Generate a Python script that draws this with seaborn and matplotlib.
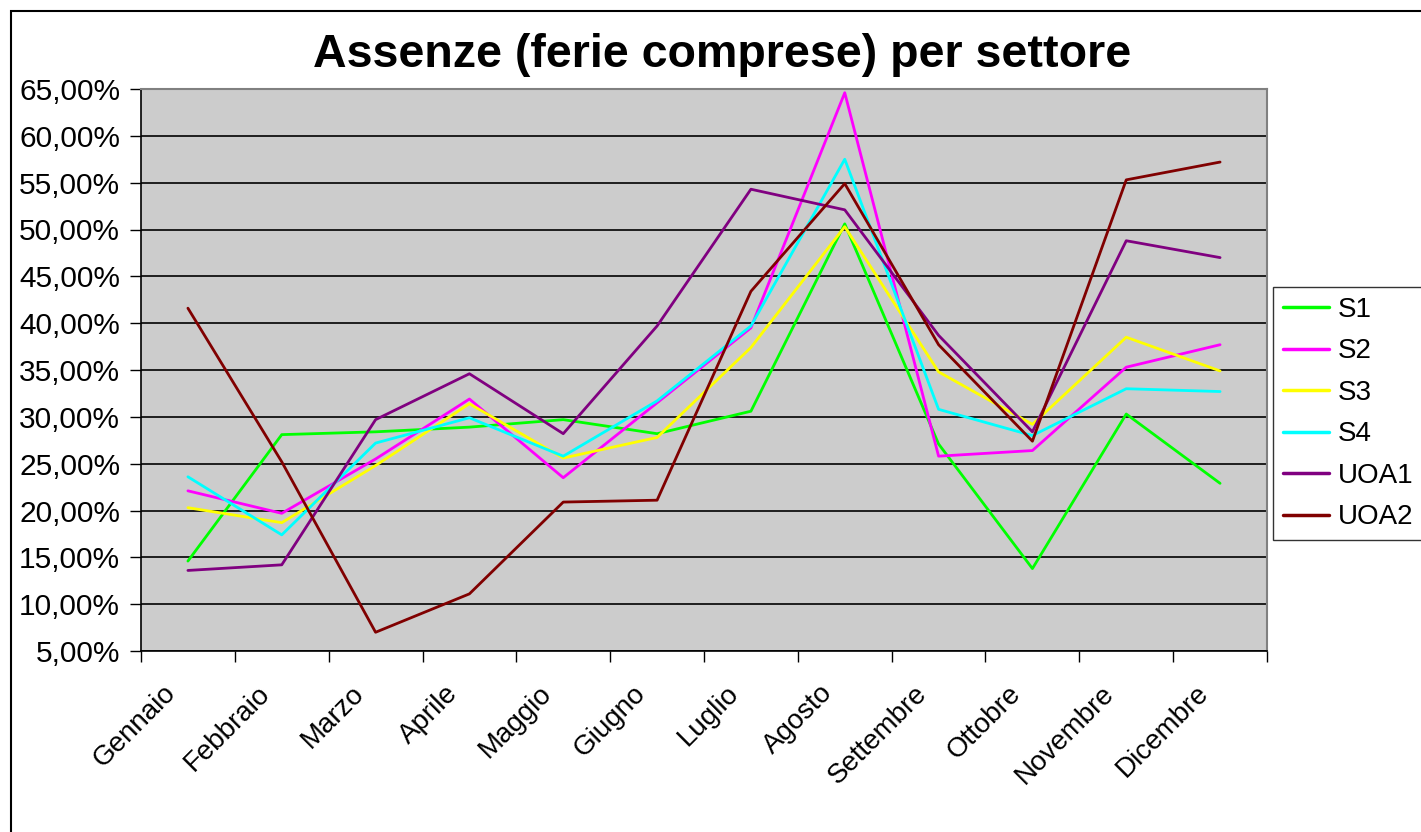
import pandas as pd
import numpy as np
import matplotlib
matplotlib.use('Agg')
import matplotlib.pyplot as plt
import matplotlib.transforms as mtransforms
import seaborn as sns
from matplotlib.patches import Rectangle
from matplotlib.ticker import FuncFormatter, FixedLocator

sns.set_style('white')
plt.rcParams['font.family'] = ['Liberation Sans', 'DejaVu Sans']
plt.rcParams['text.color'] = 'black'
plt.rcParams['xtick.color'] = 'black'
plt.rcParams['ytick.color'] = 'black'

mesi = ['Gennaio', 'Febbraio', 'Marzo', 'Aprile', 'Maggio', 'Giugno',
        'Luglio', 'Agosto', 'Settembre', 'Ottobre', 'Novembre', 'Dicembre']
s1 = [14.6, 28.1, 28.4, 28.9, 29.7, 28.2, 30.6, 50.6, 27.1, 13.8, 30.3, 22.9]
s2 = [22.1, 19.7, 25.5, 31.9, 23.5, 31.5, 39.5, 64.6, 25.8, 26.4, 35.3, 37.7]
s3 = [20.3, 18.7, 24.8, 31.4, 25.6, 27.8, 37.4, 50.3, 34.8, 29.2, 38.5, 34.9]
s4 = [23.6, 17.4, 27.2, 29.9, 25.8, 31.7, 39.7, 57.5, 30.8, 28.0, 33.0, 32.7]
uoa1 = [13.6, 14.2, 29.7, 34.6, 28.2, 39.7, 54.3, 52.1, 38.7, 28.4, 48.8, 47.0]
uoa2 = [41.6, 25.2, 7.0, 11.1, 20.9, 21.1, 43.4, 54.9, 37.7, 27.4, 55.3, 57.2]

serie = {'S1': s1, 'S2': s2, 'S3': s3, 'S4': s4, 'UOA1': uoa1, 'UOA2': uoa2}
colori = {'S1': '#00FF00', 'S2': '#FF00FF', 'S3': '#FFFF00', 'S4': '#00FFFF',
          'UOA1': '#800080', 'UOA2': '#800000'}

rows = []
for nome, vals in serie.items():
    for i, v in enumerate(vals):
        rows.append({'pos': i, 'mese': mesi[i], 'serie': nome, 'valore': v / 100})
df = pd.DataFrame(rows)

fig = plt.figure(figsize=(14.21, 8.32), dpi=100)
ax = fig.add_axes([141 / 1421, 1 - 651 / 832, (1267 - 141) / 1421, (651 - 89) / 832])
ax.set_facecolor('#CCCCCC')

sns.lineplot(data=df, x='pos', y='valore', hue='serie', palette=colori,
             linewidth=2.0, ax=ax, legend=False, sort=False)

ax.set_xlim(-0.5, 11.5)
ax.set_ylim(0.05, 0.65)
ax.set_yticks(np.arange(0.05, 0.651, 0.05))
ax.yaxis.set_major_formatter(FuncFormatter(lambda v, p: f'{v * 100:.2f}%'.replace('.', ',')))
ax.tick_params(axis='y', labelsize=21.5, length=8, width=1, direction='out', left=True, pad=7)
ax.grid(axis='y', color='black', linewidth=1.2)
ax.set_axisbelow(True)

ax.set_xticks(range(12))
ax.set_xticklabels(mesi, rotation=45, ha='right', rotation_mode='anchor', fontsize=20)
ax.tick_params(axis='x', length=0, pad=21)
ax.xaxis.set_minor_locator(FixedLocator(np.arange(-0.5, 11.6, 1)))
ax.tick_params(axis='x', which='minor', length=8, width=1, direction='out', bottom=True)
shift = mtransforms.ScaledTranslation(-25 / 100, 0, fig.dpi_scale_trans)
for lab in ax.get_xticklabels():
    lab.set_transform(lab.get_transform() + shift)
ax.set_xlabel('')
ax.set_ylabel('')

for s in ['top', 'right']:
    ax.spines[s].set_color('#808080')
    ax.spines[s].set_linewidth(1.5)
for s in ['left', 'bottom']:
    ax.spines[s].set_color('black')
    ax.spines[s].set_linewidth(1.2)

fig.text(722 / 1421, 1 - 55 / 832, 'Assenze (ferie comprese) per settore',
         ha='center', va='center', fontsize=33.5, fontweight='bold')

handles = [plt.Line2D([], [], color=colori[k], linewidth=2.5) for k in serie]
leg = fig.legend(handles, list(serie.keys()), loc='upper left',
                 bbox_to_anchor=(1273 / 1421, 1 - 287 / 832), fontsize=20,
                 frameon=True, fancybox=False, edgecolor='black', borderaxespad=0,
                 handlelength=1.65, labelspacing=0.56, borderpad=0.35, handletextpad=0.32)
leg.get_frame().set_linewidth(1.0)

fig.patches.append(Rectangle((11 / 1421, -0.2), 2, 1.2 - 11 / 832, transform=fig.transFigure,
                             fill=False, edgecolor='black', linewidth=1.5))

fig.savefig('out.png', dpi=100)
